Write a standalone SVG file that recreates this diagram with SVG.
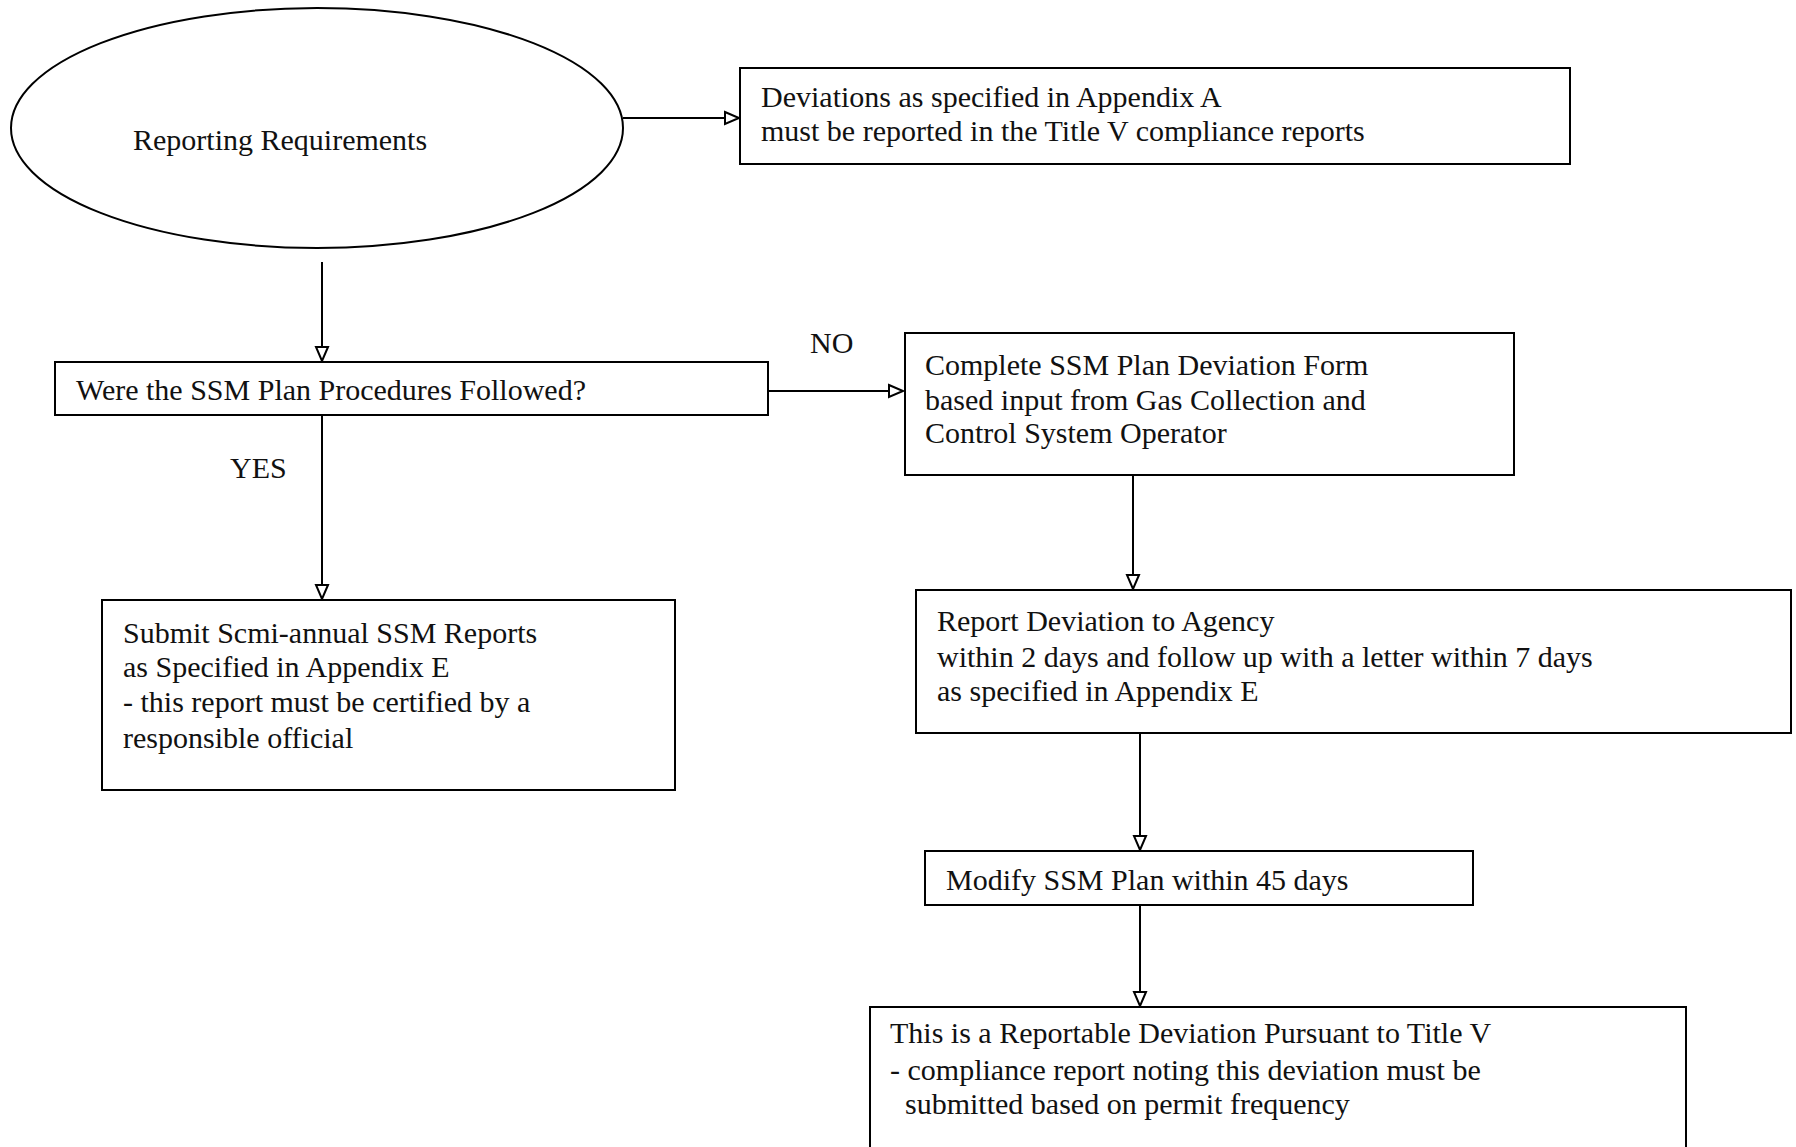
<svg xmlns="http://www.w3.org/2000/svg" width="1796" height="1147" viewBox="0 0 1796 1147">
<defs>
<style>
.box{fill:#fff;stroke:#000;stroke-width:2}
.t{font-family:"Liberation Serif","Times New Roman",serif;font-size:30px;fill:#111}
.c{fill:none;stroke:#000;stroke-width:2}
</style>
<marker id="ah" markerWidth="18" markerHeight="16" refX="15" refY="7" orient="auto" markerUnits="userSpaceOnUse" viewBox="0 0 18 14">
<path d="M1,1 L15,7 L1,13 Z" fill="#fff" stroke="#000" stroke-width="2"/>
</marker>
</defs>
<rect width="1796" height="1147" fill="#fff"/>
<g id="connectors">
<line class="c" x1="623" y1="118" x2="739" y2="118" marker-end="url(#ah)"/>
<line class="c" x1="322" y1="262" x2="322" y2="361" marker-end="url(#ah)"/>
<line class="c" x1="768" y1="391" x2="903" y2="391" marker-end="url(#ah)"/>
<line class="c" x1="322" y1="415" x2="322" y2="599" marker-end="url(#ah)"/>
<line class="c" x1="1133" y1="475" x2="1133" y2="589" marker-end="url(#ah)"/>
<line class="c" x1="1140" y1="733" x2="1140" y2="850" marker-end="url(#ah)"/>
<line class="c" x1="1140" y1="905" x2="1140" y2="1006" marker-end="url(#ah)"/>
<text class="t" x="810" y="353">NO</text>
<text class="t" x="230" y="478">YES</text>
</g>
<g id="start">
<ellipse class="box" cx="317" cy="128" rx="306" ry="120"/>
<text class="t" x="133" y="150">Reporting Requirements</text>
</g>
<g id="deviations">
<rect class="box" x="740" y="68" width="830" height="96"/>
<text class="t" x="761" y="107">Deviations as specified in Appendix A</text>
<text class="t" x="761" y="141">must be reported in the Title V compliance reports</text>
</g>
<g id="question">
<rect class="box" x="55" y="362" width="713" height="53"/>
<text class="t" x="76" y="400">Were the SSM Plan Procedures Followed?</text>
</g>
<g id="complete">
<rect class="box" x="905" y="333" width="609" height="142"/>
<text class="t" x="925" y="375">Complete SSM Plan Deviation Form</text>
<text class="t" x="925" y="410">based input from Gas Collection and</text>
<text class="t" x="925" y="443">Control System Operator</text>
</g>
<g id="submit">
<rect class="box" x="102" y="600" width="573" height="190"/>
<text class="t" x="123" y="643">Submit Scmi-annual SSM Reports</text>
<text class="t" x="123" y="677">as Specified in Appendix E</text>
<text class="t" x="123" y="712">- this report must be certified by a</text>
<text class="t" x="123" y="748">responsible official</text>
</g>
<g id="report">
<rect class="box" x="916" y="590" width="875" height="143"/>
<text class="t" x="937" y="631">Report Deviation to Agency</text>
<text class="t" x="937" y="667">within 2 days and follow up with a letter within 7 days</text>
<text class="t" x="937" y="701">as specified in Appendix E</text>
</g>
<g id="modify">
<rect class="box" x="925" y="851" width="548" height="54"/>
<text class="t" x="946" y="890">Modify SSM Plan within 45 days</text>
</g>
<g id="reportable">
<rect class="box" x="870" y="1007" width="816" height="160"/>
<text class="t" x="890" y="1043">This is a Reportable Deviation Pursuant to Title V</text>
<text class="t" x="890" y="1080">- compliance report noting this deviation must be</text>
<text class="t" x="905" y="1114">submitted based on permit frequency</text>
</g>
</svg>
